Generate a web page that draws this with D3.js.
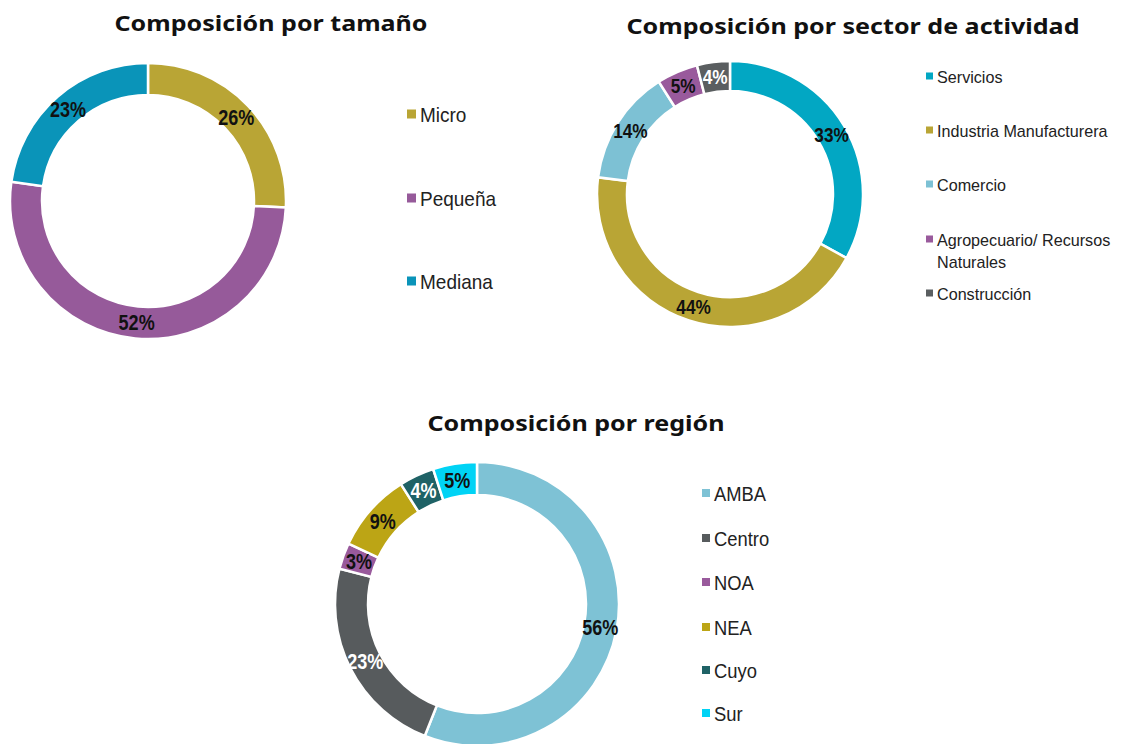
<!DOCTYPE html>
<html>
<head>
<meta charset="utf-8">
<script src="https://cdn.jsdelivr.net/npm/d3@7"></script>
<style>
  body { margin: 0; background: #fff; }
  .title { font-family: "Noto Sans", Inter, sans-serif; font-weight: 700; fill: #111; }
  .lbl { font-family: "Liberation Sans", Arial, sans-serif; font-weight: 700; }
  .leg { font-family: "Liberation Sans", Arial, sans-serif; fill: #222; }
</style>
</head>
<body>
<svg width="1131" height="744"></svg>
<script>
const sizeCats = ['Micro', 'Pequeña', 'Mediana'];
const sizeVals = [26, 52, 23];
const sizeColors = ['#b9a535', '#965a9a', '#0a94b9'];

const sectorCats = ['Servicios', 'Industria Manufacturera', 'Comercio', 'Agropecuario/ Recursos Naturales', 'Construcción'];
const sectorVals = [33, 44, 14, 5, 4];
const sectorColors = ['#02a7c3', '#b9a535', '#7dc1d4', '#995a9c', '#5a5e60'];

const regionCats = ['AMBA', 'Centro', 'NOA', 'NEA', 'Cuyo', 'Sur'];
const regionVals = [56, 23, 3, 9, 4, 5];
const regionColors = ['#7ec2d5', '#575b5d', '#995a9c', '#bca515', '#1f6266', '#00d3f5'];

const svg = d3.select('svg');

function donut(opt) {
    const g = svg.append('g').attr('transform', `translate(${opt.cx},${opt.cy})`);
    const pie = d3.pie().sort(null).value(d => d.v);
    const arc = d3.arc().innerRadius(opt.ri).outerRadius(opt.ro);
    const data = opt.cats.map((c, i) => ({c: c, v: opt.vals[i], col: opt.colors[i]}));
    const arcs = pie(data);

    g.selectAll('path').data(arcs).enter().append('path')
        .attr('d', arc)
        .attr('fill', d => d.data.col)
        .attr('stroke', '#fff')
        .attr('stroke-width', 2.5);

    // percentage labels, squeezed to look like a narrow face
    g.selectAll('text').data(arcs).enter().append('text')
        .attr('class', 'lbl')
        .attr('transform', d => `translate(${arc.centroid(d)}) scale(0.82,1)`)
        .attr('text-anchor', 'middle')
        .attr('dy', '0.36em')
        .attr('font-size', opt.lblSize)
        .attr('fill', (d, i) => opt.white.includes(i) ? '#fff' : '#111')
        .text(d => d.data.v + '%');

    // legend
    const lg = svg.append('g').attr('transform', `translate(${opt.lx},0)`);
    opt.cats.forEach((c, i) => {
        const y = opt.ly[i];
        lg.append('rect').attr('x', 0).attr('y', y - opt.sq / 2 - 1)
            .attr('width', opt.sq).attr('height', opt.sq).attr('fill', opt.colors[i]);
        const t = lg.append('text').attr('class', 'leg')
            .attr('transform', `translate(${opt.sq + 4},${y}) scale(${opt.legScale},1)`)
            .attr('font-size', opt.legSize);
        const lines = opt.wrap && opt.wrap[i] ? opt.wrap[i] : [c];
        lines.forEach((ln, k) => {
            t.append('tspan').attr('x', 0).attr('dy', k === 0 ? '0.35em' : '1.3em').text(ln);
        });
    });

    svg.append('text').attr('class', 'title')
        .attr('x', opt.tx).attr('y', opt.ty)
        .attr('text-anchor', 'middle')
        .attr('font-size', opt.tSize)
        .attr('textLength', opt.tLen)
        .attr('lengthAdjust', 'spacingAndGlyphs')
        .text(opt.title);
}

donut({
    cats: sizeCats, vals: sizeVals, colors: sizeColors,
    cx: 148, cy: 201, ro: 138, ri: 106, lblSize: 22, white: [],
    lx: 407, ly: [115, 199, 282], sq: 9, legSize: 20, legScale: 0.95,
    title: 'Composición por tamaño', tx: 271, ty: 31, tSize: 21, tLen: 313
});

donut({
    cats: sectorCats, vals: sectorVals, colors: sectorColors,
    cx: 730, cy: 194, ro: 133, ri: 103, lblSize: 21, white: [4],
    lx: 926, ly: [77, 131, 185, 240, 294], sq: 7, legSize: 17, legScale: 0.95,
    wrap: {3: ['Agropecuario/ Recursos', 'Naturales']},
    title: 'Composición por sector de actividad', tx: 853, ty: 34, tSize: 21, tLen: 453
});

donut({
    cats: regionCats, vals: regionVals, colors: regionColors,
    cx: 477, cy: 604, ro: 142, ri: 109, lblSize: 22, white: [1, 4],
    lx: 702, ly: [494, 539, 583, 628, 671, 714], sq: 8, legSize: 20, legScale: 0.92,
    title: 'Composición por región', tx: 576, ty: 431, tSize: 21, tLen: 297
});
</script>
</body>
</html>
